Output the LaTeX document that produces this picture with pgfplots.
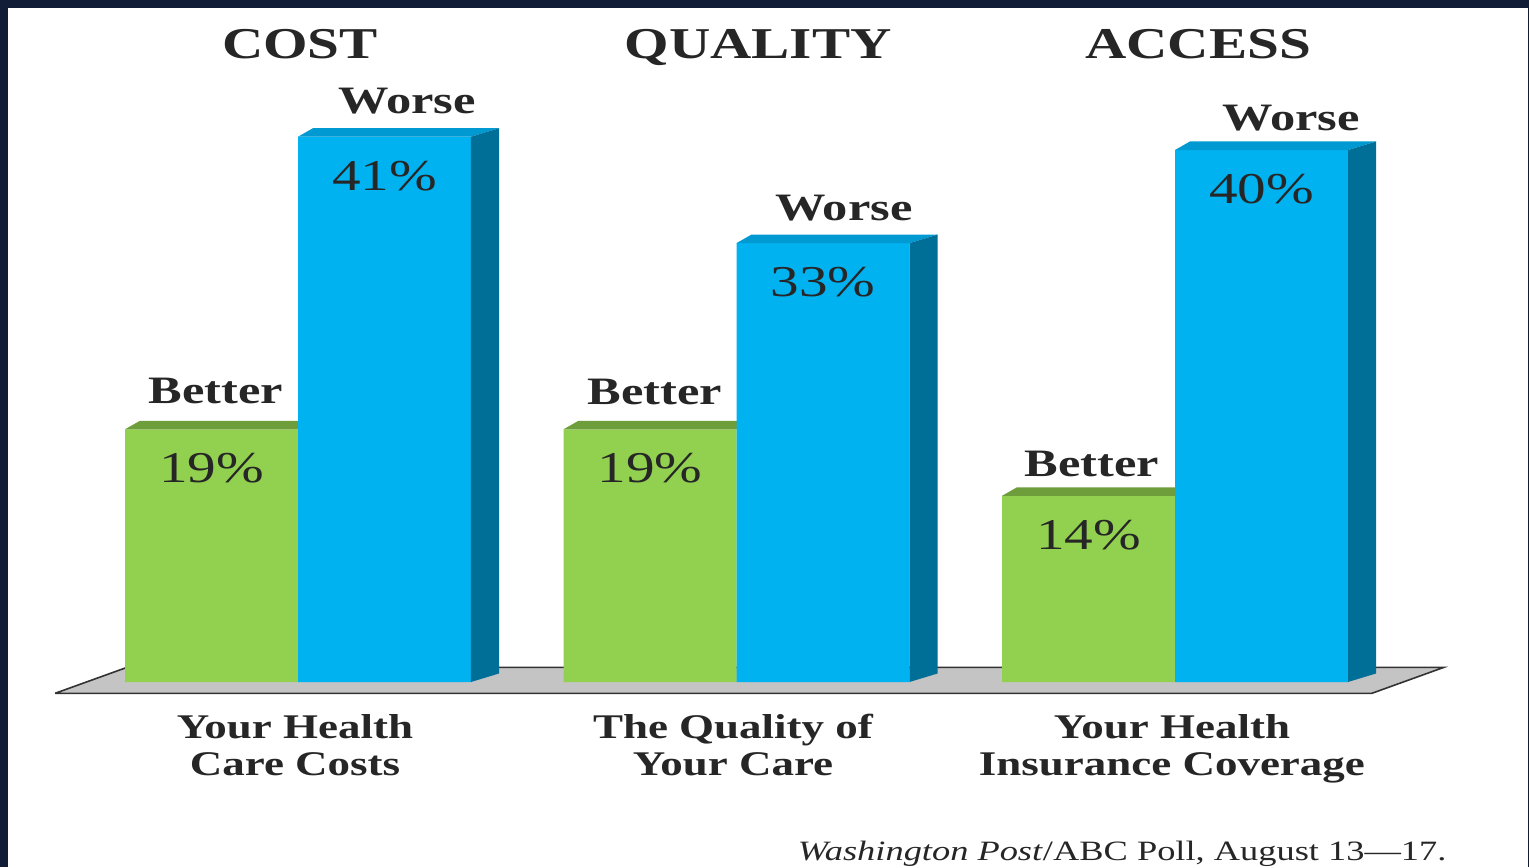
\documentclass[border=0pt]{standalone}
\usepackage{pgfplots}
\pgfplotsset{compat=1.18}
\usepackage{fontspec}
\setmainfont{Liberation Serif}[FakeStretch=1.3]
\definecolor{bgdark}{HTML}{111C36}
\definecolor{gfront}{HTML}{92D050}
\definecolor{gtop}{HTML}{6E9E3C}
\definecolor{bfront}{HTML}{00B2EF}
\definecolor{bside}{HTML}{006F98}
\definecolor{btop}{HTML}{0099D2}
\definecolor{floorgray}{HTML}{C4C4C4}
\begin{document}
\begin{tikzpicture}
\begin{axis}[
  width=764.5pt, height=433.5pt, scale only axis,
  xmin=-0.6796, xmax=2.8073, ymin=-13.91, ymax=51.28,
  hide axis, clip=false,
  ybar, bar width=0.3945,
]
% background
\fill[bgdark] (axis cs:-0.6796,-13.91) rectangle (axis cs:2.8073,51.28);
\fill[white] (axis cs:-0.6613,-13.91) rectangle (axis cs:2.805,50.68);
% floor
\addplot[fill=floorgray, draw=black!80, line width=0.8pt, bar shift=0pt, sharp plot]
  coordinates {(-0.554,-0.85) (2.449,-0.85) (2.613,1.1) (-0.390,1.1) (-0.554,-0.85)};
% Better: front faces
\addplot[fill=gfront, draw=none, bar shift=0pt,
  nodes near coords={\pgfmathprintnumber[assume math mode=true]{\pgfplotspointmeta}\%},
  every node near coord/.append style={font=\fontsize{22}{26}\selectfont, text=black!85, anchor=center, yshift=-19.5pt}]
  coordinates {(-0.19725,19) (0.80275,19) (1.80275,14)};
% Better: top faces
\addplot[fill=gtop, draw=none, sharp plot] coordinates {(-0.3945,19) (0,19) (0.064,19.64) (-0.3605,19.64) (-0.3945,19)};
\addplot[fill=gtop, draw=none, sharp plot] coordinates {(0.6055,19) (1,19) (1.064,19.64) (0.6395,19.64) (0.6055,19)};
\addplot[fill=gtop, draw=none, sharp plot] coordinates {(1.6055,14) (2,14) (2.064,14.64) (1.6395,14.64) (1.6055,14)};
% Worse: front faces
\addplot[fill=bfront, draw=none, bar shift=0pt,
  nodes near coords={\pgfmathprintnumber[assume math mode=true]{\pgfplotspointmeta}\%},
  every node near coord/.append style={font=\fontsize{22}{26}\selectfont, text=black!85, anchor=center, yshift=-19.5pt}]
  coordinates {(0.19725,41) (1.19725,33) (2.19725,40)};
% Worse: top faces
\addplot[fill=btop, draw=none, sharp plot] coordinates {(0,41) (0.3945,41) (0.4585,41.64) (0.034,41.64) (0,41)};
\addplot[fill=btop, draw=none, sharp plot] coordinates {(1,33) (1.3945,33) (1.4585,33.64) (1.034,33.64) (1,33)};
\addplot[fill=btop, draw=none, sharp plot] coordinates {(2,40) (2.3945,40) (2.4585,40.64) (2.034,40.64) (2,40)};
% Worse: side faces
\addplot[fill=bside, draw=none, sharp plot] coordinates {(0.3945,0) (0.3945,41) (0.4585,41.64) (0.4585,0.64) (0.3945,0)};
\addplot[fill=bside, draw=none, sharp plot] coordinates {(1.3945,0) (1.3945,33) (1.4585,33.64) (1.4585,0.64) (1.3945,0)};
\addplot[fill=bside, draw=none, sharp plot] coordinates {(2.3945,0) (2.3945,40) (2.4585,40.64) (2.4585,0.64) (2.3945,0)};
% titles
\node[font=\bfseries\fontsize{22}{26}\selectfont, text=black!85, anchor=base] at (axis cs:0.0046,46.9) {COST};
\node[font=\bfseries\fontsize{22}{26}\selectfont, text=black!85, anchor=base] at (axis cs:1.049,46.9) {QUALITY};
\node[font=\bfseries\fontsize{22}{26}\selectfont, text=black!85, anchor=base] at (axis cs:2.0525,46.9) {ACCESS};
% Better / Worse labels
\node[font=\bfseries\fontsize{19.4}{23}\selectfont, text=black!85] at (axis cs:0.2486,43.7) {Worse};
\node[font=\bfseries\fontsize{19.4}{23}\selectfont, text=black!85] at (axis cs:1.245,35.6) {Worse};
\node[font=\bfseries\fontsize{19.4}{23}\selectfont, text=black!85] at (axis cs:2.2645,42.4) {Worse};
\node[font=\bfseries\fontsize{19.4}{23}\selectfont, text=black!85] at (axis cs:-0.187,21.9) {Better};
\node[font=\bfseries\fontsize{19.4}{23}\selectfont, text=black!85] at (axis cs:0.814,21.8) {Better};
\node[font=\bfseries\fontsize{19.4}{23}\selectfont, text=black!85] at (axis cs:1.811,16.4) {Better};
% category labels
\node[font=\bfseries\fontsize{17.3}{18.5}\selectfont, text=black!85, align=center] at (axis cs:-0.0068,-5.1) {Your Health\strut\\Care Costs\strut};
\node[font=\bfseries\fontsize{17.3}{18.5}\selectfont, text=black!85, align=center] at (axis cs:0.992,-5.1) {The Quality of\strut\\Your Care\strut};
\node[font=\bfseries\fontsize{17.3}{18.5}\selectfont, text=black!85, align=center] at (axis cs:1.993,-5.1) {Your Health\strut\\Insurance Coverage\strut};
% source
\node[font=\fontsize{14}{16}\selectfont, text=black!85, anchor=east, inner sep=0pt] at (axis cs:2.62,-12.95) {\textit{Washington Post}/ABC Poll, August 13—17.};
\end{axis}
\end{tikzpicture}
\end{document}
